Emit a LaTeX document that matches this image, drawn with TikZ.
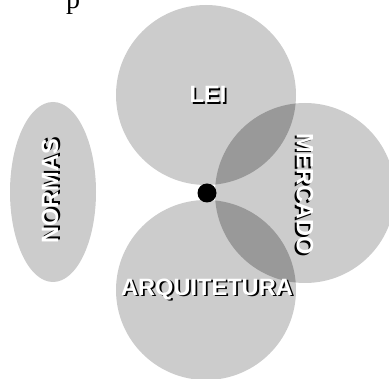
\documentclass[tikz,border=0pt]{standalone}
\usepackage{fontspec}
\usepackage{xcolor}
\usetikzlibrary{positioning, shapes.geometric}
\newfontfamily\rotfont{Liberation Sans}
\newfontfamily\serifa{Liberation Serif}
\definecolor{zonagray}{HTML}{CCCCCC}
\definecolor{lentegray}{HTML}{999999}
% white text with a black drop shadow
\newcommand{\rotulo}[1]{\rlap{\kern1.8pt\raisebox{-1.8pt}{\color{black}#1}}{\color{white}#1}}

\begin{document}
\begin{tikzpicture}[
  x=1pt, y=-1pt,
  zone/.style={
    circle, fill=zonagray, draw=none,
    minimum size=180pt, inner sep=0pt
  },
  lente/.style={fill=lentegray},
  marco/.style={
    font=\rotfont\bfseries\fontsize{23.6}{24}\selectfont,
    inner sep=0pt
  }
]
\useasboundingbox (0,0) rectangle (389,379);

% ---- fragment of a cut-off line above ----
\node[anchor=base west, inner sep=0pt,
  font=\serifa\fontsize{28}{28}\selectfont] (frag) at (66,9) {p};

% ---- the zones ----
\node[zone] (lei) at (206,95) {};
\node[zone] (mercado) at (305,193) {};
\node[zone] (arq) at (206,290) {};
\node[ellipse, fill=zonagray, minimum width=86pt, minimum height=180pt,
  inner sep=0pt] (normas) at (53,192) {};

% ---- overlaps ----
\begin{scope}
  \clip (mercado.center) circle (90pt);
  \fill[lente] (lei.center) circle (90pt);
  \fill[lente] (arq.center) circle (90pt);
\end{scope}

% ---- meeting point ----
\node[circle, fill=black, minimum size=19pt, inner sep=0pt] (ponto) at (207,193) {};

% ---- labels ----
\node[marco] (tlei) at (208,95) {\rotulo{LEI}};
\node[marco, rotate=-90] (tmercado) at (304,194) {\rotulo{MERCADO}};
\node[marco] (tarq) at (207,290) {\rotulo{ARQUITETURA}};
\node[marco, rotate=90] (tnormas) at (51,191) {\rotulo{NORMAS}};

\end{tikzpicture}
\end{document}
